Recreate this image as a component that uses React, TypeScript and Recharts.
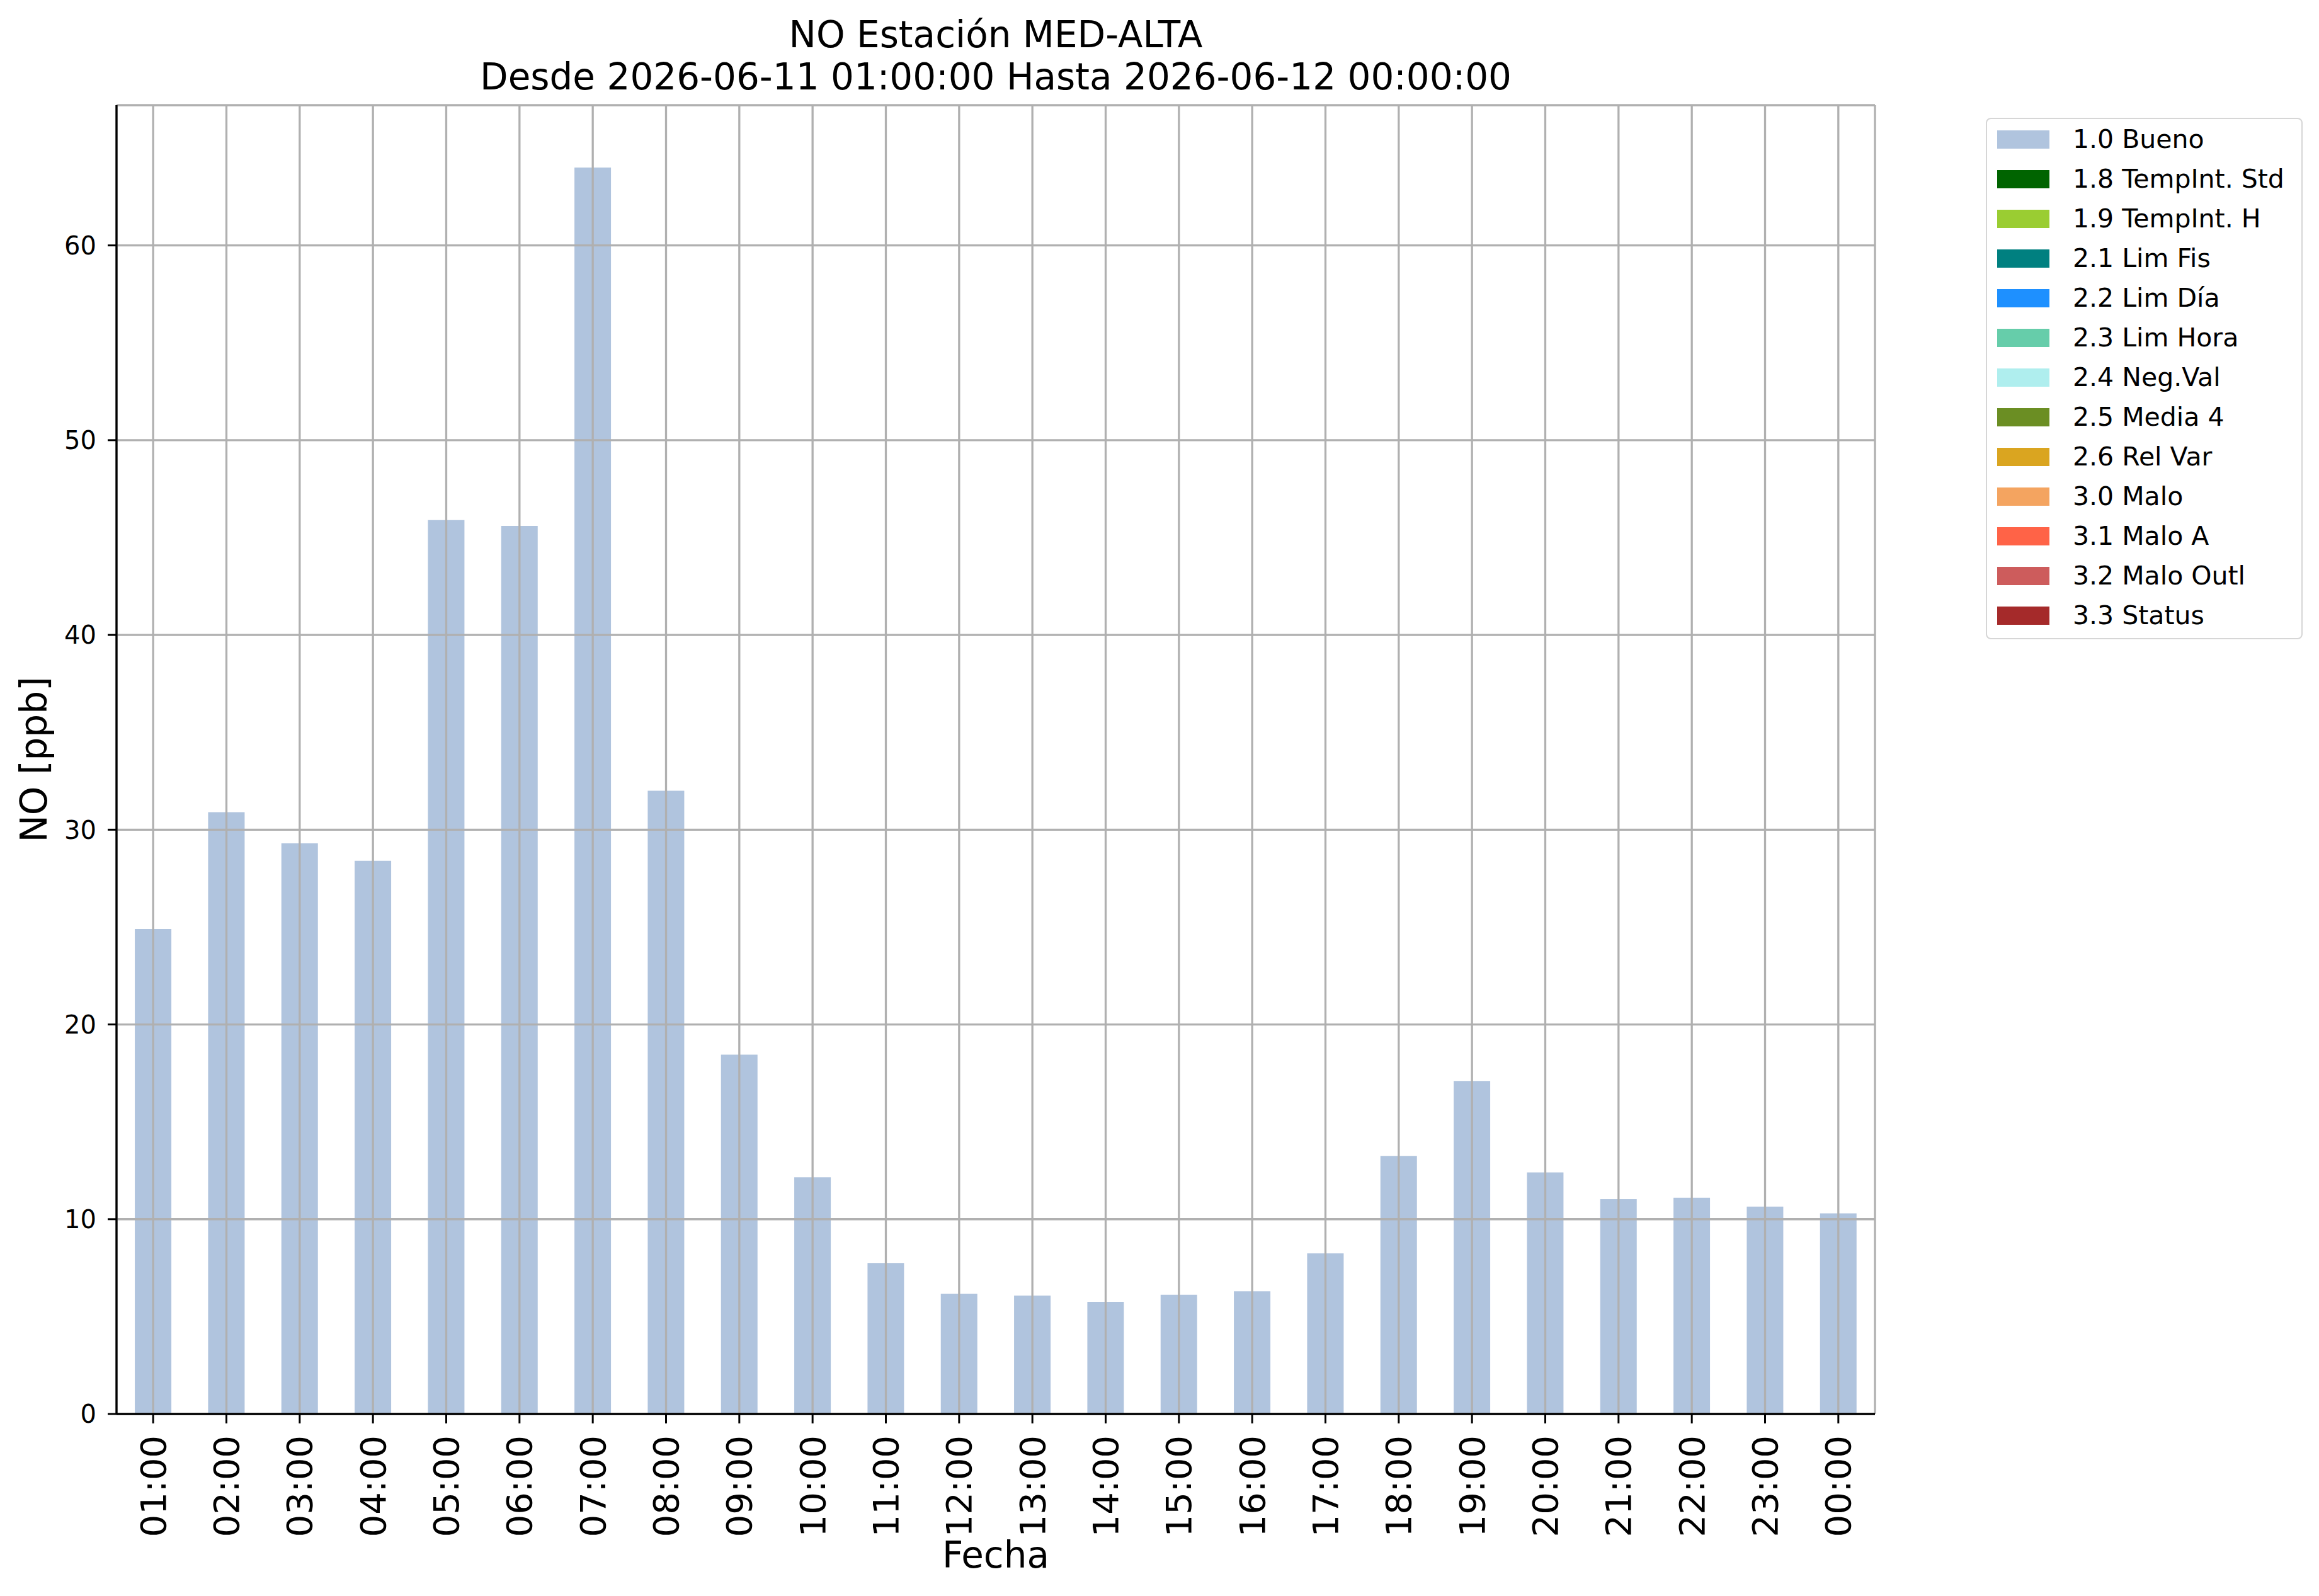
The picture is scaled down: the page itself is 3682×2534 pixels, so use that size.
import React from 'react';
import { Bar, BarChart, CartesianGrid, Legend, XAxis, YAxis } from 'recharts';

const hours = [
  '01:00', '02:00', '03:00', '04:00', '05:00', '06:00', '07:00', '08:00',
  '09:00', '10:00', '11:00', '12:00', '13:00', '14:00', '15:00', '16:00',
  '17:00', '18:00', '19:00', '20:00', '21:00', '22:00', '23:00', '00:00',
];
const noValues = [
  24.9, 30.9, 29.3, 28.4, 45.9, 45.6, 64.0, 32.0,
  18.45, 12.15, 7.75, 6.18, 6.08, 5.76, 6.12, 6.3,
  8.25, 13.25, 17.1, 12.4, 11.03, 11.1, 10.65, 10.3,
];
const yTicks = [0, 10, 20, 30, 40, 50, 60];

const flagLabels = [
  '1.0 Bueno', '1.8 TempInt. Std', '1.9 TempInt. H', '2.1 Lim Fis', '2.2 Lim Día',
  '2.3 Lim Hora', '2.4 Neg.Val', '2.5 Media 4', '2.6 Rel Var', '3.0 Malo',
  '3.1 Malo A', '3.2 Malo Outl', '3.3 Status',
];
const flagColors = [
  '#b0c4de', '#006400', '#9acd32', '#008080', '#1e90ff',
  '#66cdaa', '#afeeee', '#6b8e23', '#daa520', '#f4a460',
  '#ff6347', '#cd5c5c', '#a52a2a',
];

const data = hours.map((hour, i) => ({ hour, bueno: noValues[i] }));

const FONT = 'DejaVu Sans, sans-serif';
const W = 3682;
const H = 2534;

const HourTick = (props: any) => {
  const { x, y, payload } = props;
  return (
    <text
      transform={`translate(${x},${y}) rotate(-90)`}
      textAnchor="end"
      dy="0.35em"
      fontSize={56}
      fontFamily={FONT}
      fill="#000"
    >
      {payload.value}
    </text>
  );
};

const FlagLegend = () => (
  <div
    style={{
      position: 'relative',
      width: 503,
      height: 828,
      boxSizing: 'border-box',
      border: '2.5px solid #d6d6d6',
      borderRadius: 8,
      background: '#fff',
      fontFamily: FONT,
      fontSize: 41,
    }}
  >
    {flagLabels.map((label, i) => (
      <div
        key={label}
        style={{ position: 'absolute', left: 16, top: 18 + i * 63, height: 29, display: 'flex' }}
      >
        <div style={{ width: 83, height: 29, background: flagColors[i] }} />
        <div style={{ marginLeft: 37, lineHeight: '29px', whiteSpace: 'nowrap', color: '#000' }}>
          {label}
        </div>
      </div>
    ))}
  </div>
);

const App = () => {
  return (
    <div style={{ position: 'absolute', left: 0, top: 0, width: W, height: H, background: '#fff' }}>
      <BarChart
        width={W}
        height={H}
        data={data}
        margin={{ top: 167, right: 705, bottom: 39, left: 85 }}
        barCategoryGap="25%"
      >
        <XAxis
          dataKey="hour"
          interval={0}
          height={250}
          tick={<HourTick />}
          tickSize={15}
          tickMargin={19}
          axisLine={{ stroke: '#000', strokeWidth: 3.3 }}
          tickLine={{ stroke: '#000', strokeWidth: 3 }}
        />
        <XAxis
          xAxisId="top"
          dataKey="hour"
          orientation="top"
          height={0}
          tick={false}
          tickLine={false}
          axisLine={{ stroke: '#000', strokeWidth: 3.3 }}
        />
        <YAxis
          width={100}
          domain={[0, (dataMax: number) => dataMax * 1.05]}
          ticks={yTicks}
          allowDataOverflow
          tick={{ fontSize: 40, fontFamily: FONT, fill: '#000' }}
          tickSize={14}
          tickMargin={18}
          axisLine={{ stroke: '#000', strokeWidth: 3.3 }}
          tickLine={{ stroke: '#000', strokeWidth: 3 }}
        />
        <YAxis
          yAxisId="right"
          orientation="right"
          width={0}
          domain={[0, 1]}
          tick={false}
          tickLine={false}
          axisLine={{ stroke: '#000', strokeWidth: 3.3 }}
        />
        <Bar dataKey="bueno" name="1.0 Bueno" fill="#b0c4de" isAnimationActive={false} />
        <CartesianGrid stroke="#b0b0b0" strokeWidth={3.3} zIndex={350} />
        <Legend
          layout="vertical"
          align="center"
          verticalAlign="middle"
          wrapperStyle={{ left: 3153, top: 187, width: 503, height: 828 }}
          content={() => <FlagLegend />}
        />
      </BarChart>
      <svg
        width={W}
        height={H}
        style={{ position: 'absolute', left: 0, top: 0, pointerEvents: 'none' }}
        fontFamily={FONT}
        fontSize={58}
      >
        <text x={1581} y={75} textAnchor="middle">NO Estación MED-ALTA</text>
        <text x={1581} y={142} textAnchor="middle">Desde 2026-06-11 01:00:00 Hasta 2026-06-12 00:00:00</text>
        <text x={1581} y={2489} textAnchor="middle">Fecha</text>
        <text transform="translate(74,1206) rotate(-90)" textAnchor="middle">NO [ppb]</text>
      </svg>
    </div>
  );
};

export default App;
